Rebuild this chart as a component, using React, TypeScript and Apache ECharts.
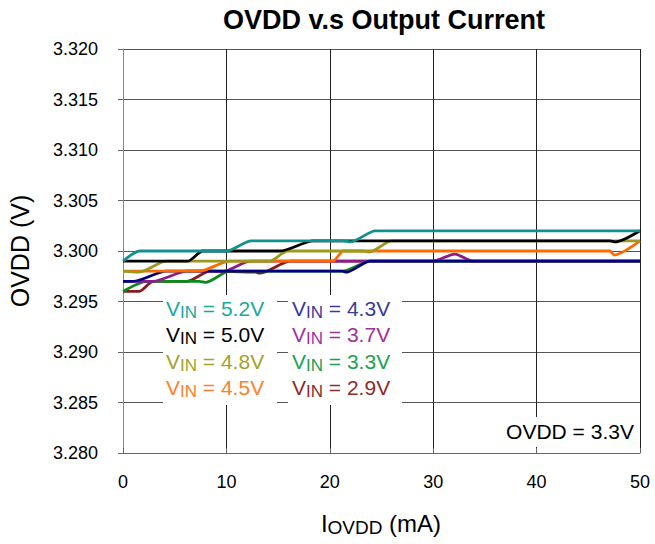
import React, { useEffect, useRef } from "react";
import * as echarts from "echarts";

const FONT = "'Liberation Sans', Arial, sans-serif";

const seriesNames = ["5.2V", "5.0V", "4.8V", "4.5V", "4.3V", "3.7V", "3.3V", "2.9V"];
const lineColors = ["#10938f", "#000000", "#9a9a1e", "#ff6a00", "#000080", "#8e1a8e", "#0b8a1e", "#8b1c1c"];
const textColors = ["#1aa99e", "#000000", "#a3a32a", "#ff7f2a", "#3a3a9a", "#a030a0", "#1ea050", "#902a2a"];

const vin52 = [[0, 3.299], [1.6, 3.3], [10, 3.3], [12.4, 3.301], [21.3, 3.301], [22, 3.3009], [24.4, 3.302], [50, 3.302]];
const vin50 = [[0, 3.299], [6.3, 3.299], [7.7, 3.3], [15.2, 3.3], [18.4, 3.301], [47.1, 3.301], [47.6, 3.3009], [50, 3.302]];
const vin48 = [[0, 3.298], [1.5, 3.2979], [4.2, 3.299], [14.2, 3.299], [15.9, 3.3], [23.2, 3.3], [23.8, 3.2999], [26, 3.301], [50, 3.301]];
const vin45 = [[0, 3.298], [7.4, 3.298], [10.3, 3.299], [20.3, 3.299], [21.3, 3.3], [47.1, 3.3], [47.5, 3.2996], [50, 3.301]];
const vin43 = [[0, 3.297], [1, 3.297], [4.2, 3.298], [21.2, 3.298], [21.6, 3.2979], [23.9, 3.299], [50, 3.299]];
const vin37 = [[0, 3.297], [2.9, 3.297], [6.2, 3.298], [9.7, 3.298], [12.3, 3.299], [30, 3.299], [32.1, 3.2997], [33.8, 3.299], [50, 3.299]];
const vin33 = [[0, 3.296], [2.3, 3.297], [7.4, 3.297], [8, 3.2969], [10.3, 3.298], [21.2, 3.298], [23.9, 3.299], [50, 3.299]];
const vin29 = [[0, 3.296], [1.6, 3.296], [2.9, 3.297], [6.2, 3.297], [8.4, 3.298], [12.8, 3.2979], [13.2, 3.2978], [16.2, 3.299], [50, 3.299]];

const allData = [vin52, vin50, vin48, vin45, vin43, vin37, vin33, vin29];

const xTicks = { min: 0, max: 50, interval: 10 };
const yTicks = { min: 3.28, max: 3.32, interval: 0.005 };

export default function App() {
  const ref = useRef<HTMLDivElement>(null);
  useEffect(() => {
    if (!ref.current) return;
    const chart = echarts.init(ref.current, null, { renderer: "svg" });

    const legendItems: any[] = [];
    const colX = [166, 292];
    const rowY = [308, 334.5, 361, 387.5];
    seriesNames.forEach((n, i) => {
      const col = Math.floor(i / 4);
      const row = i % 4;
      const c = textColors[i];
      legendItems.push({
        type: "text",
        x: colX[col],
        y: rowY[row],
        style: {
          text: `{v|V}{s|IN}{v| = ${n}}`,
          verticalAlign: "middle",
          rich: {
            v: { fontSize: 21, fill: c, fontFamily: FONT, lineHeight: 25, verticalAlign: "middle" },
            s: { fontSize: 17, fill: c, fontFamily: FONT, lineHeight: 20, verticalAlign: "bottom" },
          },
        },
        z: 100,
      });
    });

    const option: any = {
      animation: false,
      backgroundColor: "#ffffff",
      grid: { left: 123, right: 15, top: 49, bottom: 91, containLabel: false },
      xAxis: {
        type: "value",
        min: xTicks.min,
        max: xTicks.max,
        interval: xTicks.interval,
        axisLine: { show: true, lineStyle: { color: "#666", width: 1 } },
        axisTick: { show: true, inside: true, length: 5, lineStyle: { color: "#666" } },
        axisLabel: { color: "#000", fontSize: 18, fontFamily: FONT, margin: 20 },
        splitLine: { show: true, lineStyle: { color: "#222", width: 1 } },
      },
      yAxis: {
        type: "value",
        min: yTicks.min,
        max: yTicks.max,
        interval: yTicks.interval,
        axisLine: { show: true, lineStyle: { color: "#888", width: 1 } },
        axisTick: { show: true, inside: false, length: 5, lineStyle: { color: "#666" } },
        axisLabel: {
          color: "#000",
          fontSize: 18,
          fontFamily: FONT,
          margin: 25,
          formatter: (v: number) => v.toFixed(3),
        },
        splitLine: { show: true, lineStyle: { color: "#555", width: 1 } },
      },
      graphic: [
        {
          type: "text",
          x: 384,
          y: 20,
          style: {
            text: "OVDD v.s Output Current",
            fontSize: 27,
            fontWeight: "bold",
            fontFamily: FONT,
            fill: "#000",
            align: "center",
            verticalAlign: "middle",
          },
        },
        {
          type: "text",
          x: 20,
          y: 251,
          rotation: Math.PI / 2,
          style: {
            text: "OVDD (V)",
            fontSize: 25,
            fontFamily: FONT,
            fill: "#000",
            align: "center",
            verticalAlign: "middle",
          },
        },
        {
          type: "text",
          x: 381,
          y: 523,
          style: {
            text: "{v|I}{s|OVDD}{v| (mA)}",
            align: "center",
            verticalAlign: "middle",
            rich: {
              v: { fontSize: 24, fill: "#000", fontFamily: FONT, lineHeight: 28, verticalAlign: "middle" },
              s: { fontSize: 19, fill: "#000", fontFamily: FONT, lineHeight: 22, verticalAlign: "bottom" },
            },
          },
        },
        {
          type: "rect",
          shape: { x: 163, y: 295, width: 114, height: 110 },
          style: { fill: "#fff" },
          z: 90,
        },
        {
          type: "rect",
          shape: { x: 288, y: 295, width: 114, height: 110 },
          style: { fill: "#fff" },
          z: 90,
        },
        {
          type: "rect",
          shape: { x: 500, y: 417, width: 138, height: 30 },
          style: { fill: "#fff" },
          z: 90,
        },
        {
          type: "text",
          x: 570,
          y: 431,
          style: {
            text: "OVDD = 3.3V",
            fontSize: 21,
            fontFamily: FONT,
            fill: "#000",
            align: "center",
            verticalAlign: "middle",
          },
          z: 100,
        },
        ...legendItems,
      ],
      series: allData.map((d, i) => ({
        type: "line",
        name: seriesNames[i],
        data: d,
        showSymbol: false,
        symbol: "none",
        smooth: 0.25,
        smoothMonotone: "x",
        z: 20 - i,
        lineStyle: { color: lineColors[i], width: 2.8 },
      })),
    };
    chart.setOption(option);
    return () => chart.dispose();
  }, []);
  return <div ref={ref} style={{ position: "absolute", left: 0, top: 0, width: 655, height: 544 }} />;
}
